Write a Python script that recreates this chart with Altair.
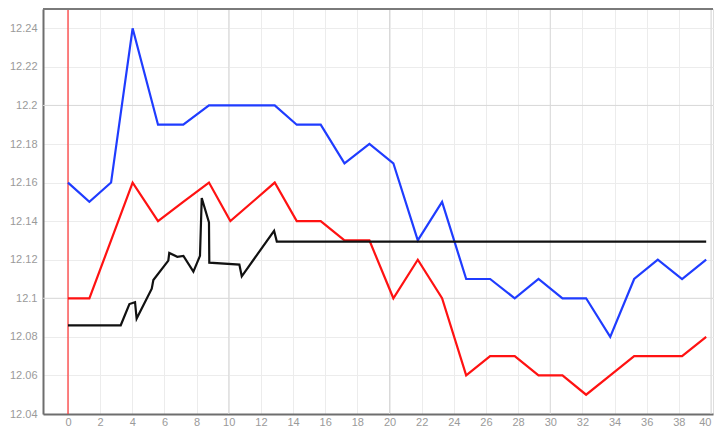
import altair as alt
import pandas as pd

# ---- data ----
x_main = [0, 1.33, 2.68, 4.02, 5.6, 7.17, 8.77, 10.1, 12.86, 14.23, 15.72, 17.2, 18.75,
          20.24, 21.76, 23.27, 24.77, 26.26, 27.79, 29.27, 30.76, 32.23, 33.73, 35.22,
          36.69, 38.2, 39.7]
blue_vals = [12.16, 12.15, 12.16, 12.24, 12.19, 12.19, 12.20, 12.20, 12.20, 12.19, 12.19,
             12.17, 12.18, 12.17, 12.13, 12.15, 12.11, 12.11, 12.10, 12.11, 12.10, 12.10,
             12.08, 12.11, 12.12, 12.11, 12.12]
red_vals = [12.10, 12.10, 12.13, 12.16, 12.14, 12.15, 12.16, 12.14, 12.16, 12.14, 12.14,
            12.13, 12.13, 12.10, 12.12, 12.10, 12.06, 12.07, 12.07, 12.06, 12.06, 12.05,
            12.06, 12.07, 12.07, 12.07, 12.08]
x_black = [0, 3.28, 3.82, 4.17, 4.27, 5.21, 5.31, 6.24, 6.30, 6.80, 7.18, 7.80, 8.21, 8.32,
           8.77, 8.79, 10.66, 10.81, 12.82, 12.99, 39.7]
black_vals = [12.086, 12.086, 12.097, 12.098, 12.0895, 12.105, 12.1095, 12.1195, 12.1235,
              12.1215, 12.122, 12.1138, 12.122, 12.152, 12.1393, 12.1185, 12.1175, 12.1114,
              12.135, 12.1294, 12.1294]

x_ticks = list(range(0, 41, 2))
y_ticks = [12.04, 12.06, 12.08, 12.1, 12.12, 12.14, 12.16, 12.18, 12.2, 12.22, 12.24]
x_major = [10, 20, 30, 40]
y_major = [12.1, 12.2]
marker_x = [0]

series_names = ["blue", "red", "black"]
series_colors = ["#1f3cff", "#ff1212", "#111111"]

rows = []
for i, (x, v) in enumerate(zip(x_main, blue_vals)):
    rows.append({"x": x, "y": v, "s": "blue", "i": i})
for i, (x, v) in enumerate(zip(x_main, red_vals)):
    rows.append({"x": x, "y": v, "s": "red", "i": i})
for i, (x, v) in enumerate(zip(x_black, black_vals)):
    rows.append({"x": x, "y": v, "s": "black", "i": i})
df = pd.DataFrame(rows)

W, H = 670, 405
xscale = alt.Scale(domain=[-1.555, 40.124], nice=False, zero=False)
yscale = alt.Scale(domain=[12.04, 12.25], nice=False, zero=False)

FONT = "Liberation Sans"

x_axis = alt.Axis(values=x_ticks, grid=True, gridColor="#ececec", gridWidth=1,
                  ticks=False, domainColor="#6e6e6e", domainWidth=2,
                  labelColor="#9a9a9a", labelFont=FONT, labelFontSize=11,
                  labelPadding=2, labelFlush=3, labelOverlap=False)
y_axis = alt.Axis(values=y_ticks, grid=True, gridColor="#ececec", gridWidth=1,
                  ticks=False, domainColor="#6e6e6e", domainWidth=2,
                  labelColor="#9a9a9a", labelFont=FONT, labelFontSize=11,
                  labelPadding=6, format="~g", labelFlush=False, labelOverlap=False)

vmaj = alt.Chart(pd.DataFrame({"x": x_major})).mark_rule(color="#d9d9d9", strokeWidth=1).encode(
    x=alt.X("x:Q", scale=xscale, axis=x_axis, title=None))
hmaj = alt.Chart(pd.DataFrame({"y": y_major})).mark_rule(color="#d9d9d9", strokeWidth=1).encode(
    y=alt.Y("y:Q", scale=yscale, axis=y_axis, title=None))
marker = alt.Chart(pd.DataFrame({"x": marker_x})).mark_rule(
    color="#ff3030", opacity=0.6, strokeWidth=2).encode(
    x=alt.X("x:Q", scale=xscale, axis=x_axis, title=None))

lines = alt.Chart(df).mark_line(strokeWidth=2.2, strokeJoin="miter").encode(
    x=alt.X("x:Q", scale=xscale, axis=x_axis, title=None),
    y=alt.Y("y:Q", scale=yscale, axis=y_axis, title=None),
    color=alt.Color("s:N", scale=alt.Scale(domain=series_names, range=series_colors), legend=None),
    order=alt.Order("i:Q"),
    detail="s:N",
)

top_border = alt.Chart(pd.DataFrame({"a": [0]})).mark_rule(color="#7a7a7a", strokeWidth=2).encode(
    x=alt.value(0), x2=alt.value(W), y=alt.value(0))

chart = alt.layer(vmaj, hmaj, marker, lines, top_border).properties(
    width=W, height=H,
    padding={"left": 35, "top": 1, "right": 2, "bottom": 12},
    autosize=alt.AutoSizeParams(type="none"),
).configure_view(stroke=None).configure_axis(labelOverlap=False).configure(background="white")

chart.save("out.html", embed_options={"renderer": "svg", "actions": False})
